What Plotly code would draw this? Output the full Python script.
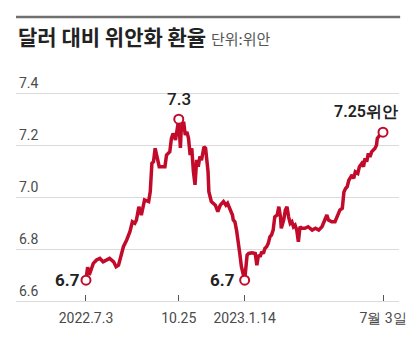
import numpy as np
import pandas as pd
import plotly.graph_objects as go

# USD/CNY exchange rate, 2022-07-03 .. 2023-07-03
start_date = "2022-07-03"
days_from_start = [
    0, 2, 4, 9, 13, 17, 21, 25, 29, 34, 37, 40, 43, 46, 50, 54, 57, 60, 62, 65,
    68, 72, 77, 79, 81, 83, 85, 87, 90, 93, 97, 99, 103, 105, 107, 110, 113, 114, 116, 117,
    120, 122, 124, 126, 128, 130, 132, 134, 136, 138, 140, 142, 145, 147, 150, 151, 154, 159, 162, 165,
    169, 172, 174, 177, 180, 181, 183, 185, 187, 189, 191, 195, 197, 198, 200, 204, 208, 210, 212, 214,
    216, 218, 220, 222, 224, 226, 228, 230, 232, 235, 237, 239, 240, 243, 245, 247, 249, 251, 253, 255,
    257, 259, 261, 263, 265, 269, 273, 278, 282, 286, 290, 294, 296, 298, 302, 306, 309, 312, 315, 317,
    319, 321, 323, 325, 327, 329, 331, 334, 336, 339, 341, 343, 345, 347, 349, 351, 353, 355, 357, 358,
    361, 363, 365,
]
cny_per_usd = [
    6.680, 6.730, 6.700, 6.745, 6.758, 6.764, 6.751, 6.758, 6.764, 6.751, 6.732, 6.738, 6.777, 6.809, 6.835, 6.867, 6.905, 6.899, 6.912, 6.963,
    6.931, 6.989, 6.983, 7.021, 7.130, 7.136, 7.188, 7.154, 7.117, 7.117, 7.117, 7.162, 7.175, 7.226, 7.245, 7.220, 7.284, 7.300, 7.189, 7.258,
    7.290, 7.239, 7.251, 7.226, 7.162, 7.188, 7.098, 7.047, 7.143, 7.117, 7.156, 7.142, 7.194, 7.188, 7.098, 7.021, 6.983, 6.969, 6.944, 6.969,
    6.983, 6.969, 6.976, 6.957, 6.931, 6.912, 6.905, 6.873, 6.835, 6.783, 6.732, 6.680, 6.745, 6.777, 6.783, 6.786, 6.783, 6.738, 6.777, 6.770,
    6.790, 6.783, 6.803, 6.809, 6.822, 6.847, 6.854, 6.873, 6.924, 6.931, 6.963, 6.924, 6.880, 6.912, 6.950, 6.963, 6.924, 6.899, 6.905, 6.886,
    6.892, 6.873, 6.828, 6.886, 6.880, 6.880, 6.886, 6.873, 6.880, 6.873, 6.886, 6.912, 6.931, 6.912, 6.905, 6.905, 6.924, 6.950, 6.957, 7.020,
    7.033, 7.040, 7.065, 7.078, 7.085, 7.072, 7.097, 7.091, 7.117, 7.130, 7.117, 7.149, 7.136, 7.168, 7.155, 7.174, 7.181, 7.187, 7.200, 7.226,
    7.238, 7.245, 7.250,
]
assert len(days_from_start) == len(cny_per_usd)

tick_dates = ["2022-07-03", "2022-10-25", "2023-01-14", "2023-07-03"]
tick_labels = ["2022.7.3", "10.25", "2023.1.14", "7월 3일"]
y_ticks = [6.6, 6.8, 7.0, 7.2, 7.4]

dates = pd.to_datetime(start_date) + pd.to_timedelta(days_from_start, unit="D")
vals = np.array(cny_per_usd)

RED = "#c20a2a"
TXT = "#222222"
GREY = "#4a4a4a"
GRID = "#dadada"

i_peak = int(np.argmax(vals))
i_trough = i_peak + int(np.argmin(vals[i_peak:]))
i_first, i_last = 0, len(vals) - 1
marked = [i_first, i_peak, i_trough, i_last]

fig = go.Figure()
fig.add_trace(go.Scatter(
    x=dates, y=vals, mode="lines",
    line=dict(color=RED, width=3.5), hoverinfo="skip",
))
fig.add_trace(go.Scatter(
    x=[dates[i] for i in marked], y=[vals[i] for i in marked], mode="markers",
    marker=dict(size=9, color="white", line=dict(color=RED, width=2)),
    hoverinfo="skip",
))

num_font = "Roboto, Liberation Sans, sans-serif"

def point_label(i, text, xanchor, yanchor, xshift, yshift, weight, size=17):
    fig.add_annotation(
        x=dates[i], y=vals[i], xref="x", yref="y", text=text, showarrow=False,
        xanchor=xanchor, yanchor=yanchor, xshift=xshift, yshift=yshift,
        font=dict(family=num_font, size=size, color=TXT, weight=weight),
    )

point_label(i_first, f"{vals[i_first]:.1f}", "right", "middle", -4, 0, "bold")
point_label(i_peak, f"{vals[i_peak]:.1f}", "center", "bottom", 0, 8, 500)
point_label(i_trough, f"{vals[i_trough]:.1f}", "right", "middle", -8, 0, "bold")
point_label(i_last, f"{vals[i_last]:.2f}위안", "right", "middle", 17, 21, 600, 16)

# Title with unit
fig.add_annotation(
    x=0, y=1.242, xref="paper", yref="paper", xanchor="left", yanchor="middle",
    showarrow=False,
    text=("<b>달러 대비 위안화 환율</b> "
          "<span style='font-size:15px;color:#555555;font-weight:normal'>단위:위안</span>"),
    font=dict(family="Noto Sans CJK KR", size=21, color=TXT),
)
# Grey rule across the top of the graphic
fig.add_shape(type="line", xref="paper", yref="paper", x0=0, x1=1.003, y0=1.333, y1=1.333,
              line=dict(color="#707070", width=2.5))

fig.update_layout(
    width=412, height=338,
    margin=dict(l=16, r=13, t=88, b=37),
    paper_bgcolor="white", plot_bgcolor="white",
    showlegend=False,
    font=dict(family=num_font, color=GREY, size=14),
    xaxis=dict(
        type="date", automargin=False,
        range=["2022-04-08", "2023-07-22 16:00"],
        tickvals=tick_dates, ticktext=tick_labels,
        ticks="inside", ticklen=6, tickcolor="#555555", tickwidth=1,
        showgrid=False, zeroline=False,
        showline=True, linecolor=GRID, linewidth=1,
        tickfont=dict(family=num_font, size=14, color=GREY),
        ticklabelstandoff=4,
    ),
    yaxis=dict(
        automargin=False,
        range=[6.6, 7.42],
        tickvals=y_ticks, ticktext=[f"{v:.1f}" for v in y_ticks],
        showgrid=True, gridcolor=GRID, gridwidth=1,
        zeroline=False, showline=False, ticks="",
        ticklabelposition="inside top", ticklabeloverflow="allow",
        tickfont=dict(family=num_font, size=14, color=GREY),
    ),
)

fig.write_html("out.html")
